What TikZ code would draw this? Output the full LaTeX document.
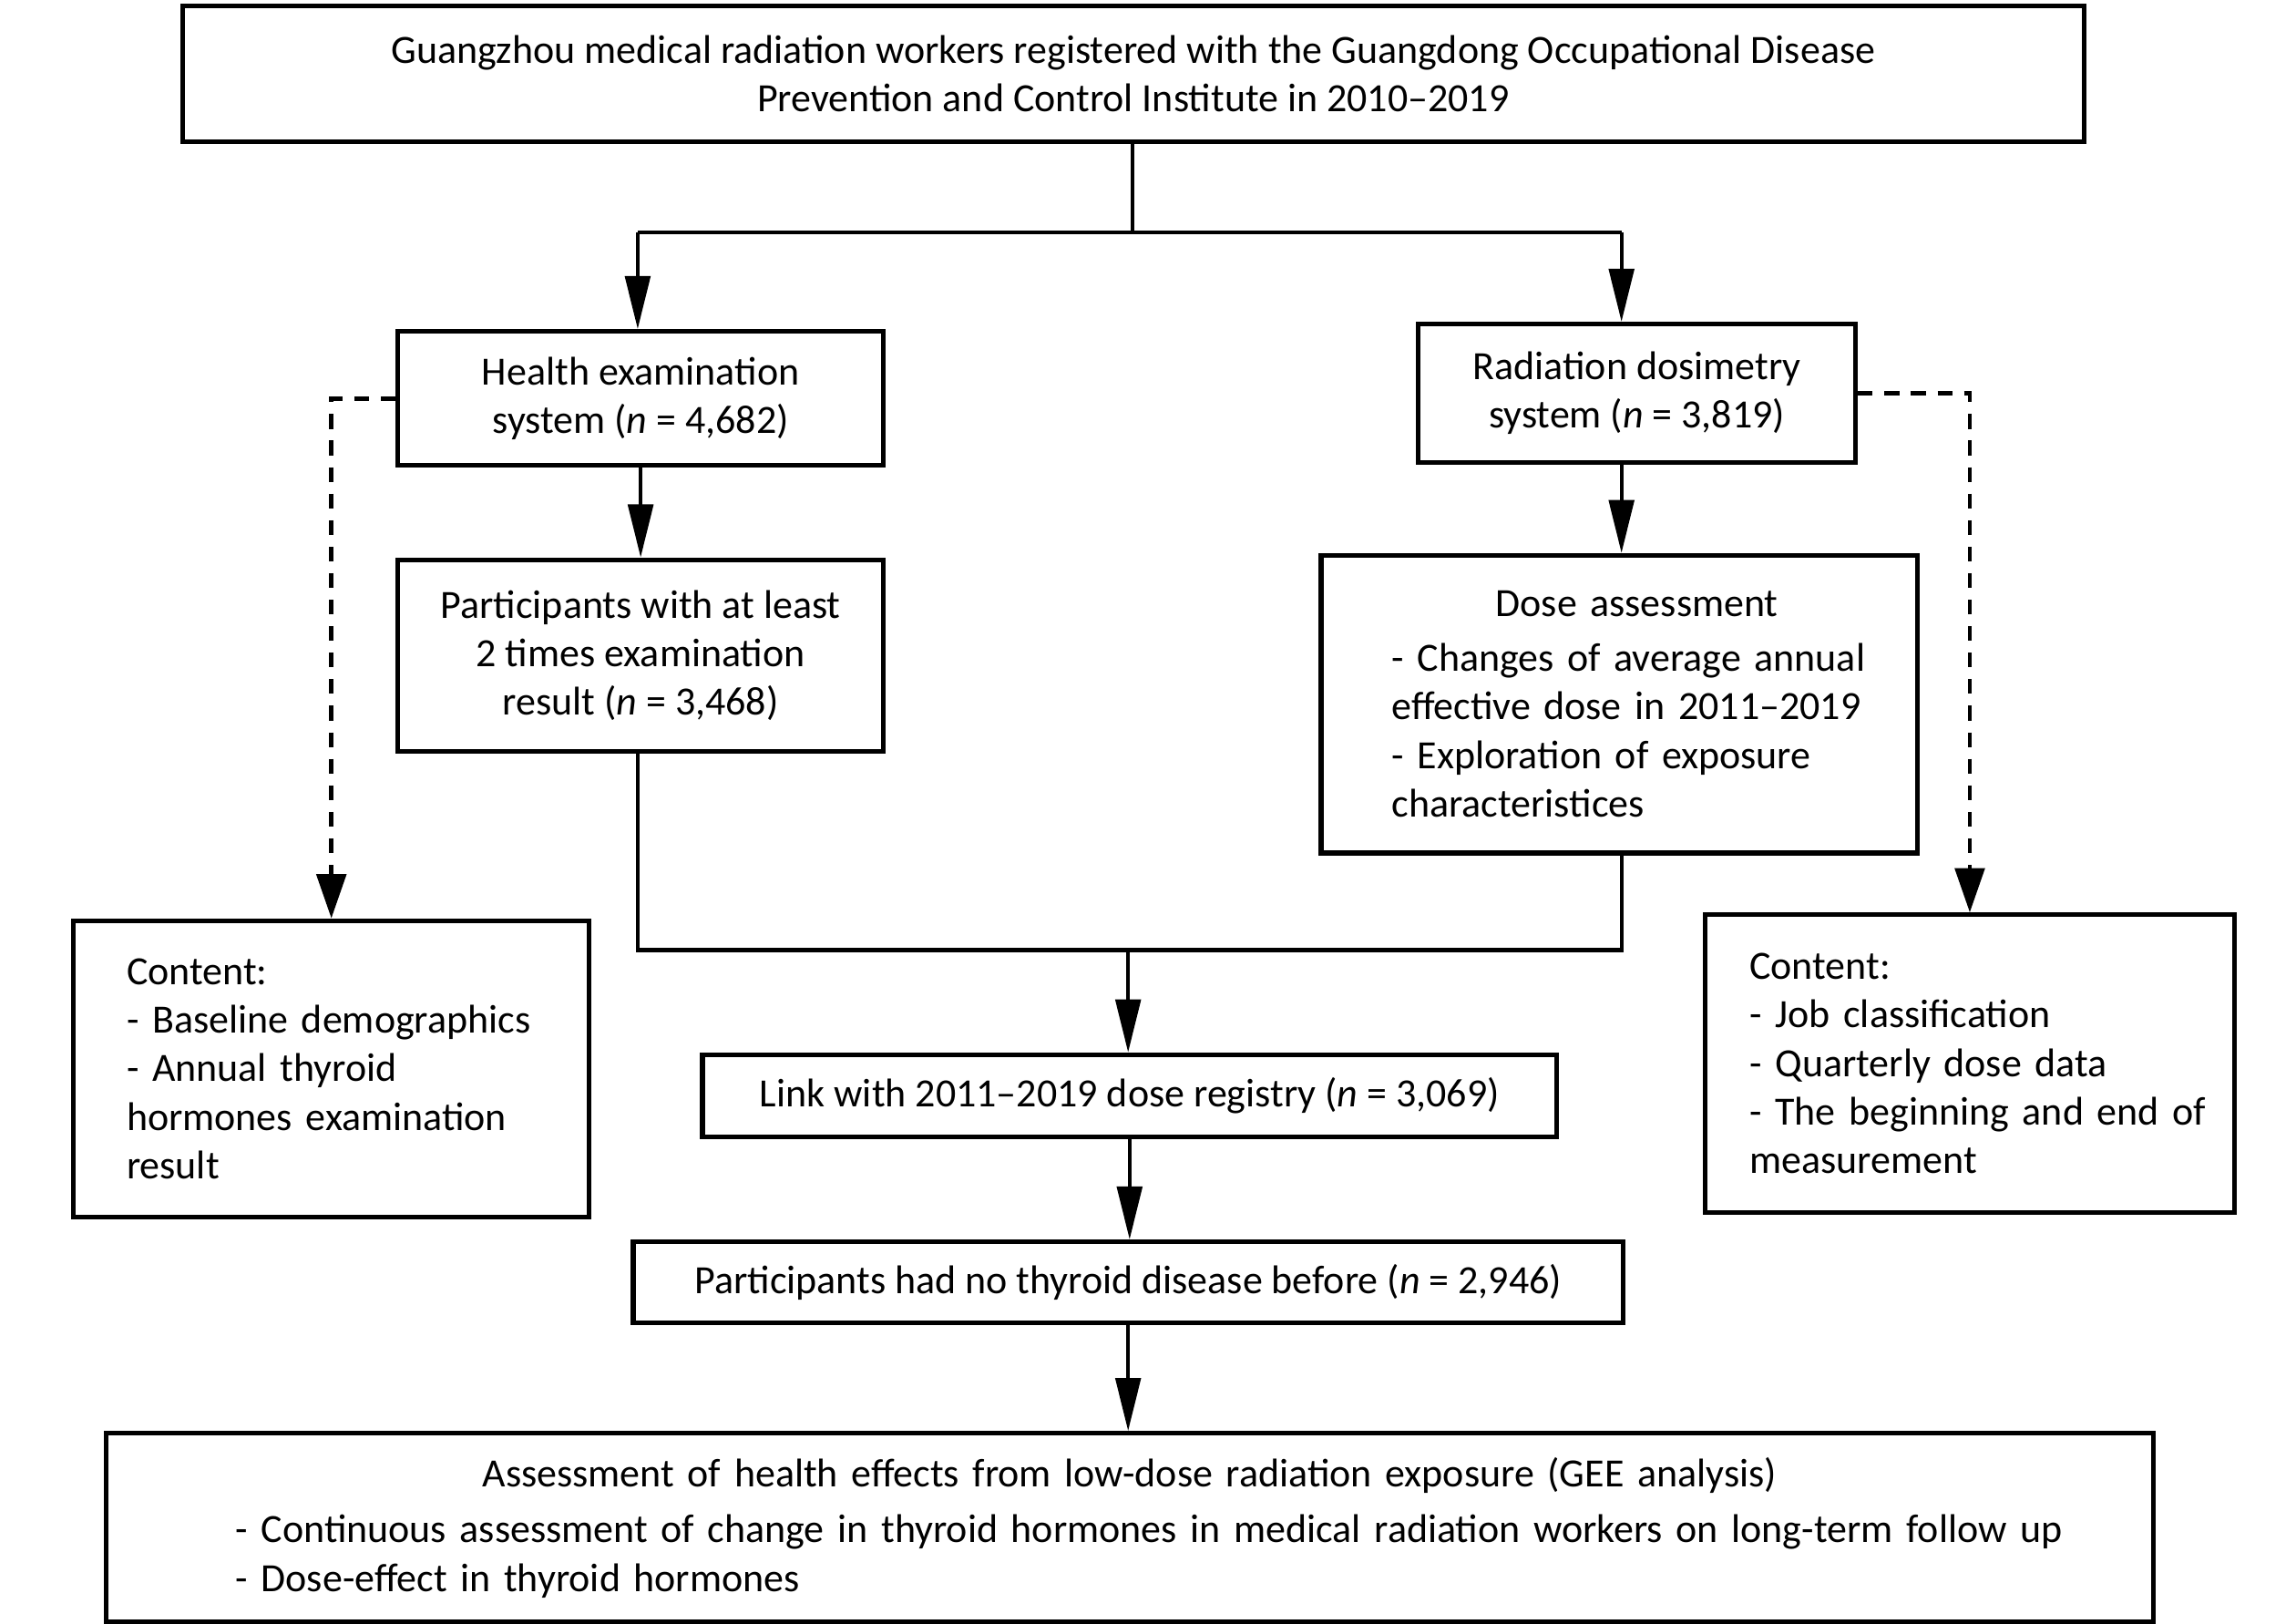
\documentclass[tikz,border=0pt]{standalone}
\usepackage{fontspec}
\setmainfont{Carlito}
\usetikzlibrary{arrows.meta}
\begin{document}
\begin{tikzpicture}[x=0.5pt,y=-0.5pt,
  box/.style={draw=black,line width=1.6pt,fill=white,inner sep=0pt,align=center,
    font=\fontsize{13.6pt}{16.5pt}\selectfont},
  lbox/.style={box,align=left},
  conn/.style={line width=1.3pt},
  arr/.style={conn,-{Triangle[length=18pt,width=8.5pt]}},
  darr/.style={line width=1.4pt,dash pattern=on 5pt off 4pt,-{Triangle[length=15pt,width=10pt]}}
]
\useasboundingbox[fill=white] (0,0) rectangle (1559,1102);

\node[box,minimum width=645.5pt,minimum height=46pt] (top) at (769.5,50)
  {Guangzhou medical radiation workers registered with the Guangdong Occupational Disease\\
   Prevention and Control Institute in 2010--2019};

\node[box,minimum width=165pt,minimum height=45.5pt] (health) at (435,270.5)
  {Health examination\\ system (\textit{n} = 4,682)};
\node[box,minimum width=148.5pt,minimum height=47pt] (rad) at (1111.5,267)
  {Radiation dosimetry\\ system (\textit{n} = 3,819)};

\node[box,minimum width=165pt,minimum height=65pt] (part) at (435,445)
  {Participants with at least\\ 2 times examination\\ result (\textit{n} = 3,468)};

\node[lbox,minimum width=202.5pt,minimum height=101pt,text width=154.5pt] (dose) at (1099.5,478)
  {\makebox[\linewidth]{\hspace*{12pt}Dose assessment}\\[2pt]
   \mbox{- Changes of average annual}\\
   \mbox{effective dose in 2011--2019}\\
   \mbox{- Exploration of exposure}\\
   \mbox{characteristices}};

\node[lbox,minimum width=175pt,minimum height=100.5pt,text width=139pt] (lc) at (225,725.5)
  {\mbox{Content:}\\ \mbox{- Baseline demographics}\\ \mbox{- Annual thyroid}\\ \mbox{hormones examination}\\ \mbox{result}};

\node[lbox,minimum width=179.5pt,minimum height=101pt,text width=149.5pt] (rc) at (1337.5,722)
  {\mbox{Content:}\\ \mbox{- Job classification}\\ \mbox{- Quarterly dose data}\\ \mbox{- The beginning and end of}\\ \mbox{measurement}};

\node[box,minimum width=290pt,minimum height=28pt] (link) at (767,744)
  {Link with 2011--2019 dose registry (\textit{n} = 3,069)};

\node[box,minimum width=336pt,minimum height=27.5pt] (noth) at (766,870.5)
  {Participants had no thyroid disease before (\textit{n} = 2,946)};

\node[lbox,minimum width=695pt,minimum height=64pt,text width=607pt] (final) at (767,1037)
  {\makebox[\linewidth]{Assessment of health effects from low-dose radiation exposure (GEE analysis)}\\[2.5pt]
   \mbox{- Continuous assessment of change in thyroid hormones in medical radiation workers on long-term follow up}\\
   \mbox{- Dose-effect in thyroid hormones}};

% connectors
\coordinate (split) at (769,158);
\coordinate (jl) at (433,158);
\coordinate (jr) at (1101,158);
\coordinate (merge) at (766,645);
\coordinate (ml) at (433,645);
\coordinate (mr) at (1101,645);

\draw[conn] (top.south -| split) -- (split);
\draw[conn] (jl) -- (jr);
\draw[arr] (jl) -- (jl |- health.north);
\draw[arr] (jr) -- (jr |- rad.north);
\draw[arr] (health.south) -- (part.north);
\draw[arr] (rad.south -| jr) -- (jr |- dose.north);
\draw[conn] (part.south -| ml) -- (ml) -- (mr) -- (dose.south -| mr);
\draw[arr] (merge) -- (link.north -| merge);
\draw[arr] (link.south) -- (link.south |- noth.north);
\draw[arr] (noth.south) -- (noth.south |- final.north);

\draw[darr] (health.west) -| (lc.north);
\draw[darr] (rad.east) -| (rc.north);
\end{tikzpicture}
\end{document}
